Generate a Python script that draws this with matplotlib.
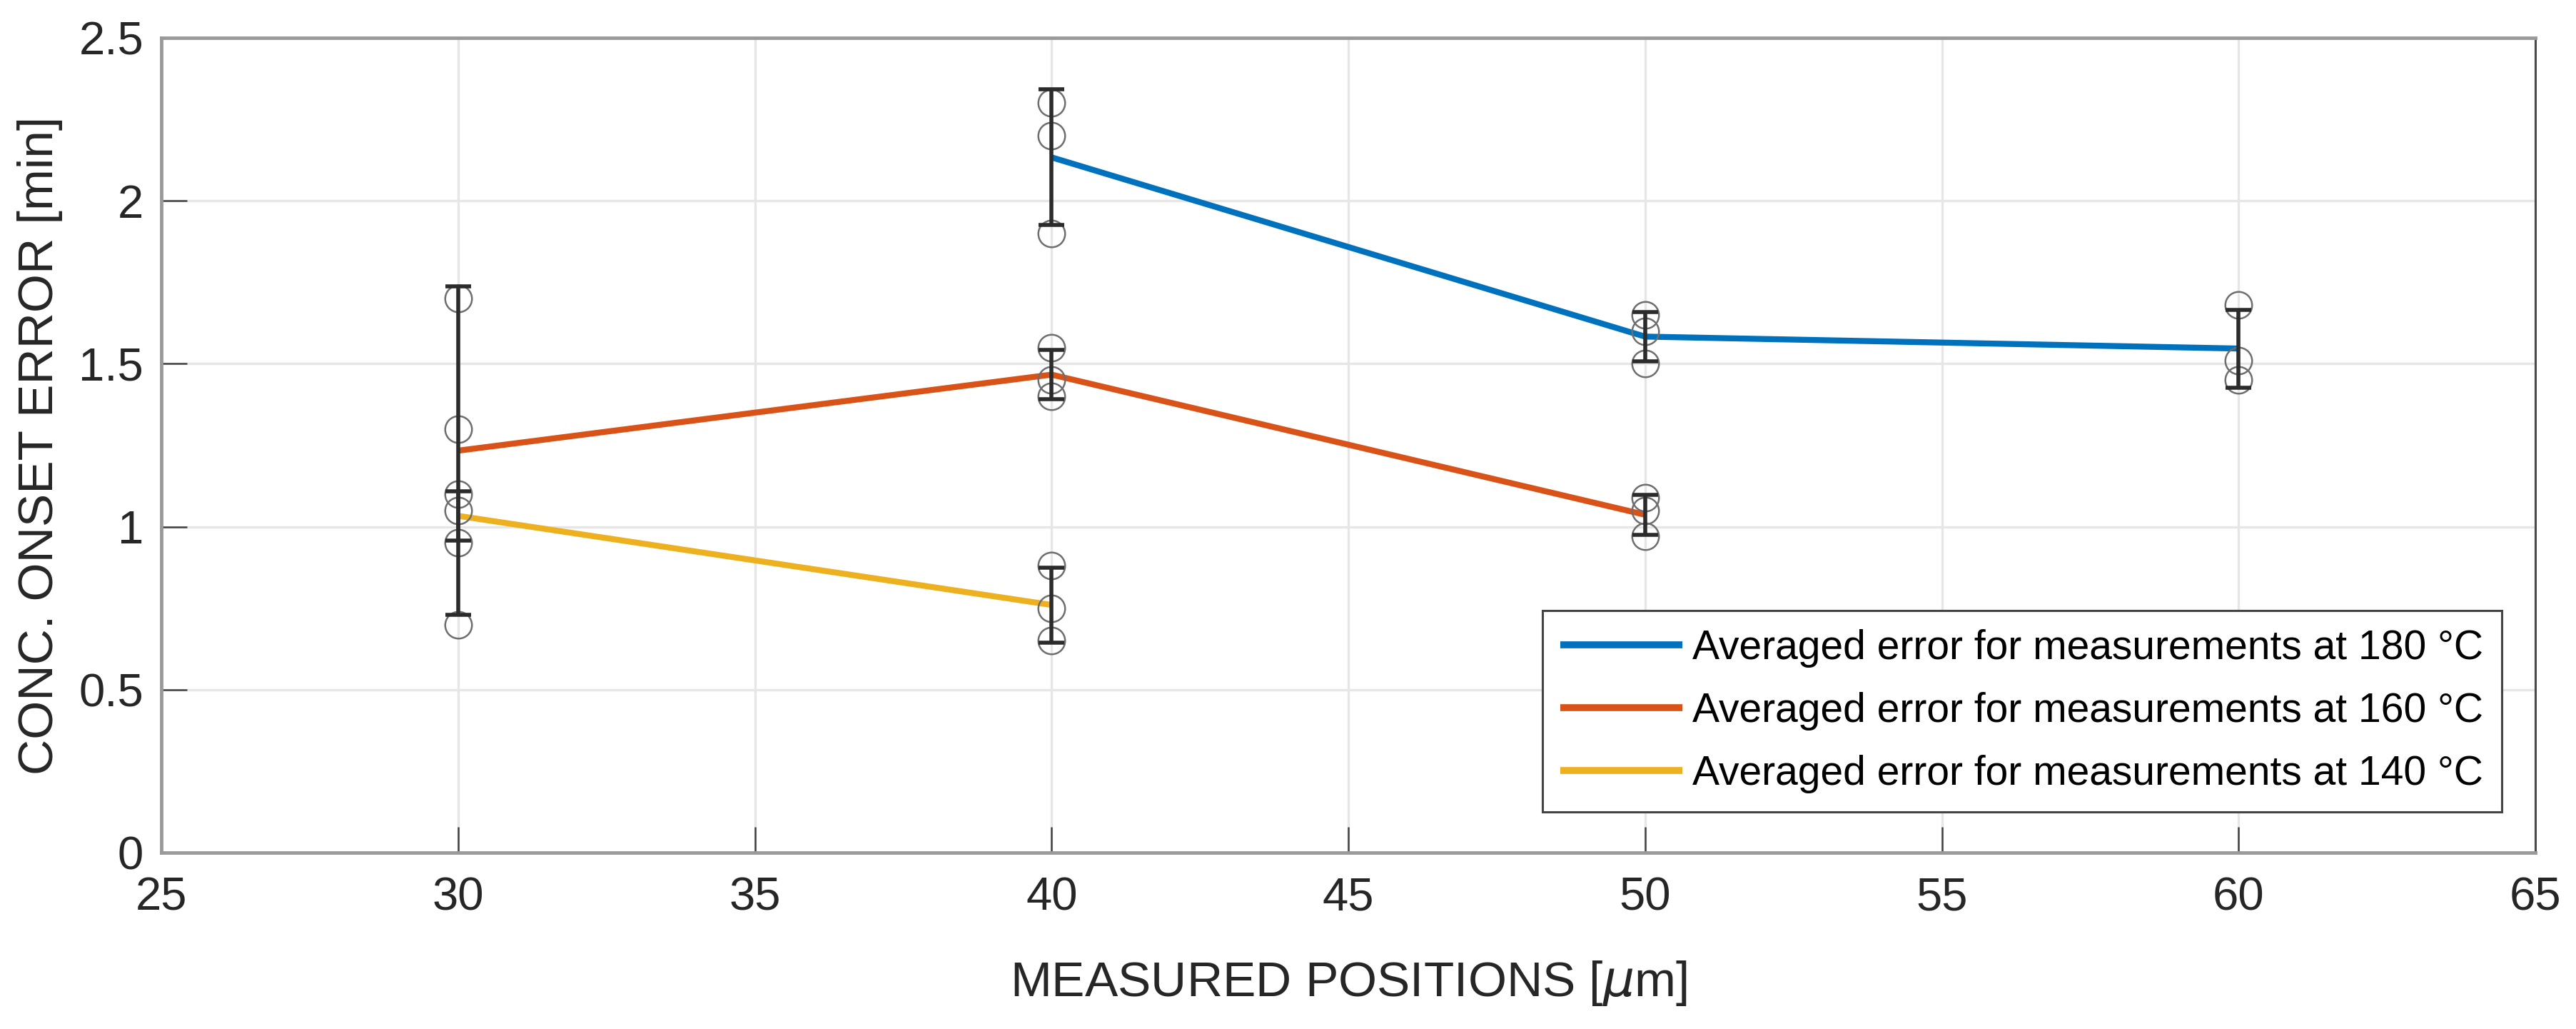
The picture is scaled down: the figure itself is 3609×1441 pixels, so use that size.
import numpy as np
import matplotlib
matplotlib.use("Agg")
import matplotlib.pyplot as plt

# ---- data ----
positions_180 = [40, 50, 60]
samples_180 = [[2.30, 2.20, 1.90], [1.65, 1.60, 1.50], [1.68, 1.51, 1.45]]
positions_160 = [30, 40, 50]
samples_160 = [[1.70, 1.30, 0.70], [1.55, 1.45, 1.40], [1.09, 1.05, 0.97]]
positions_140 = [30, 40]
samples_140 = [[1.10, 1.05, 0.95], [0.88, 0.75, 0.65]]

labels = ["Averaged error for measurements at 180 \u00b0C",
          "Averaged error for measurements at 160 \u00b0C",
          "Averaged error for measurements at 140 \u00b0C"]
colors = ["#0072BD", "#D95319", "#EDB120"]

x_ticks = [25, 30, 35, 40, 45, 50, 55, 60, 65]
y_ticks = [0, 0.5, 1, 1.5, 2, 2.5]
y_tick_labels = ["0", "0.5", "1", "1.5", "2", "2.5"]

plt.rcParams['font.family'] = ['Liberation Sans', 'DejaVu Sans']
plt.rcParams['mathtext.fontset'] = 'dejavusans'

W, H = 3609, 1441
fig = plt.figure(figsize=(W / 100, H / 100), dpi=100)
L, R, T, B = 226, 3552, 53, 1194
ax = fig.add_axes([L / W, 1 - B / H, (R - L) / W, (B - T) / H])

series = [(positions_180, samples_180), (positions_160, samples_160), (positions_140, samples_140)]
for (pos, samp), lab, col in zip(series, labels, colors):
    arr = np.array(samp)
    means = arr.mean(axis=1)
    stds = arr.std(axis=1, ddof=1)
    ax.plot(pos, means, color=col, lw=6, label=lab, zorder=3, solid_capstyle='butt')
    for p, s in zip(pos, samp):
        ax.plot([p] * len(s), s, linestyle='none', marker='o', markersize=27,
                markerfacecolor='none', markeredgecolor='#6e6e6e', markeredgewidth=1.8,
                zorder=4)
    ax.errorbar(pos, means, yerr=stds, fmt='none', ecolor='#2b2b2b', elinewidth=4,
                capsize=13, capthick=4, zorder=5)

ax.set_xlim(25, 65)
ax.set_ylim(0, 2.5)
ax.set_xticks(x_ticks)
ax.set_yticks(y_ticks)
ax.set_yticklabels(y_tick_labels)
ax.grid(True, color='#e6e6e6', lw=2.4, zorder=0)
ax.set_axisbelow(True)

ax.tick_params(axis='both', direction='in', length=26, width=1.8, color='#404040',
               labelsize=47, labelcolor='#262626', top=False, right=False)
ax.tick_params(axis='x', pad=24)
ax.tick_params(axis='y', pad=18)

for side in ['top', 'bottom', 'left']:
    ax.spines[side].set_color('#9a9a9a')
    ax.spines[side].set_linewidth(3.5)
ax.spines['right'].set_color('#4a4a4a')
ax.spines['right'].set_linewidth(2.2)

ax.set_xlabel(r"MEASURED POSITIONS [$\mu$m]", fontsize=50, color='#262626', labelpad=40)
ax.set_ylabel("CONC. ONSET ERROR [min]", fontsize=50, color='#262626', labelpad=16)

leg = ax.legend(loc='lower right', bbox_to_anchor=((3505 - L) / (R - L), (B - 1137) / (B - T)),
                fontsize=41, frameon=True, fancybox=False, edgecolor='#444444',
                handlelength=3.0, handletextpad=0.25, labelspacing=0.6,
                borderpad=0.45, borderaxespad=0.0, framealpha=1)
leg.get_frame().set_linewidth(2.2)
for line in leg.get_lines():
    line.set_linewidth(7)

fig.savefig("out.png", dpi=100)
